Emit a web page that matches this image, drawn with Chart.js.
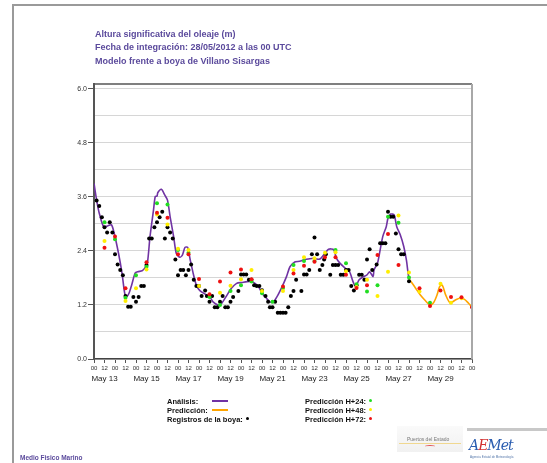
<!DOCTYPE html>
<html><head><meta charset="utf-8">
<script src="https://cdn.jsdelivr.net/npm/chart.js@4.4.0/dist/chart.umd.min.js"></script>
<style>
html,body{margin:0;padding:0;background:#fff;width:547px;height:463px;overflow:hidden;font-family:"Liberation Sans",Arial,sans-serif;}
#frame{position:absolute;left:12px;top:4px;width:560px;height:480px;border-left:2px solid #9a9a9a;border-top:2px solid #9a9a9a;}
canvas{position:absolute;left:0;top:0;}
.ttl{position:absolute;left:95px;top:28px;color:#5b4a9c;font-weight:bold;font-size:9px;line-height:13.3px;white-space:nowrap;}
.lg{position:absolute;font-weight:bold;font-size:7.5px;line-height:9px;color:#111;white-space:nowrap;}
.ln{position:absolute;height:2px;width:16px;}
.dt{position:absolute;width:4px;height:4px;border-radius:50%;}
.foot{position:absolute;left:20px;top:454px;color:#5b4a9c;font-weight:bold;font-size:6.5px;white-space:nowrap;}
.pe{position:absolute;left:397px;top:426px;width:66px;height:26px;background:linear-gradient(#fafafa,#f1f1f1);}
.pe span{position:absolute;left:10px;top:10px;font-size:5px;color:#777;white-space:nowrap;}
.pe i{position:absolute;left:2px;top:17px;width:62px;height:1px;background:#f0d890;}
.pe b{position:absolute;left:28px;top:19px;width:10px;height:2px;border-top:1px solid #e05050;border-radius:50%;}
.bar{position:absolute;left:467px;top:428px;width:80px;height:3px;background:#c8c8c8;}
.aemet{position:absolute;left:469px;top:437px;font-family:"DejaVu Serif",serif;font-style:italic;font-size:14px;color:#2a5db0;white-space:nowrap;letter-spacing:-1px;}
.aemet em{color:#d23030;font-style:italic;}
.ag{position:absolute;left:470px;top:455px;font-size:3px;color:#5577aa;white-space:nowrap;}
</style></head>
<body>
<div id="frame"></div>
<canvas id="c" width="547" height="463"></canvas>
<div class="ttl">Altura significativa del oleaje (m)<br>Fecha de integración: 28/05/2012 a las 00 UTC<br>Modelo frente a boya de Villano Sisargas</div>

<div class="lg" style="left:167px;top:397px;">Análisis:</div>
<div class="ln" style="left:212px;top:400px;background:#7033a3;"></div>
<div class="lg" style="left:167px;top:406px;">Predicción:</div>
<div class="ln" style="left:212px;top:409px;background:#ffa500;"></div>
<div class="lg" style="left:167px;top:415px;">Registros de la boya:</div>
<div class="dt" style="left:246px;top:417px;background:#000;width:3px;height:3px;"></div>
<div class="lg" style="left:305px;top:397px;">Predicción H+24:</div>
<div class="dt" style="left:369px;top:399px;background:#22dd22;width:3px;height:3px;"></div>
<div class="lg" style="left:305px;top:406px;">Predicción H+48:</div>
<div class="dt" style="left:369px;top:408px;background:#ffee00;width:3px;height:3px;"></div>
<div class="lg" style="left:305px;top:415px;">Predicción H+72:</div>
<div class="dt" style="left:369px;top:417px;background:#ee1111;width:3px;height:3px;"></div>

<div class="foot">Medio Fisico Marino</div>
<div class="pe"><span>Puertos del Estado</span><i></i><b></b></div>
<div class="bar"></div>
<div class="aemet">A<em>E</em>Met</div>
<div class="ag">Agencia Estatal de Meteorología</div>

<script>
// ---- data (hours from 13 May 00 UTC, significant wave height in m) ----
const analysisHours = [0,3,6,11,16,20,23,28,32,35,37,40,43,47,50,55,58,61,64,68,70,72,73,77,81,84,87,91,94,98,101,104,107,110,114,117,121,129,133,136,142,146,152,157,163,169,175,180,184,188,192,197,201,205,209,215,220,224,230,235,241,251,258,264,268,274,277,281,287,292,296,299,303,308,312,315,319,320,324,327,330,334,336,339,343,346,350,354,357,359,360];
const analysisValues = [3.90,3.53,3.24,2.94,2.96,2.98,2.80,2.35,1.91,1.47,1.38,1.46,1.64,1.91,1.94,1.96,2.02,2.13,2.72,3.31,3.61,3.62,3.70,3.77,3.64,3.53,3.16,2.72,2.35,2.26,2.31,2.48,2.48,2.20,1.85,1.64,1.52,1.42,1.36,1.27,1.20,1.24,1.42,1.57,1.68,1.70,1.72,1.72,1.68,1.61,1.46,1.35,1.27,1.27,1.38,1.61,1.83,2.05,2.16,2.17,2.21,2.24,2.22,2.35,2.44,2.43,2.24,2.13,2.02,1.94,1.72,1.61,1.76,1.83,1.87,1.94,1.83,1.98,2.13,2.42,2.72,2.94,3.13,3.22,3.20,2.94,2.76,2.50,2.20,1.90,1.78];

const forecastHours = [360,367,373,378,384,388,392,395,398,402,407,413,418,423,428,432];
const forecastValues = [1.78,1.59,1.42,1.31,1.20,1.25,1.42,1.61,1.64,1.42,1.25,1.31,1.35,1.33,1.24,1.15];

const buoyHours = [3,6,9,12,15,18,21,24,27,30,33,36,39,42,45,48,51,54,57,60,63,66,69,72,75,78,81,84,87,90,93,96,99,102,105,108,111,114,117,120,123,127,129,132,135,138,141,144,147,150,153,156,159,165,168,171,174,177,180,183,186,189,192,196,199,201,204,207,210,213,216,219,222,225,228,231,237,240,243,246,249,252,255,258,261,263,265,270,273,276,279,282,285,288,291,294,297,300,303,306,309,312,315,318,323,327,330,333,336,339,342,345,348,351,354,360];
const buoyValues = [3.52,3.40,3.15,2.93,2.81,3.04,2.81,2.33,2.10,1.98,1.86,1.40,1.16,1.16,1.38,1.27,1.38,1.62,1.62,2.09,2.68,2.68,2.93,3.04,3.15,3.27,2.68,2.93,2.81,2.68,2.21,1.86,1.98,1.98,1.86,1.98,2.10,1.76,1.62,1.62,1.40,1.52,1.40,1.27,1.40,1.15,1.15,1.27,1.40,1.15,1.15,1.27,1.38,1.51,1.88,1.88,1.88,1.76,1.76,1.64,1.62,1.62,1.53,1.40,1.27,1.15,1.15,1.27,1.03,1.03,1.03,1.03,1.15,1.40,1.51,1.76,1.51,1.88,1.88,1.98,2.33,2.70,2.33,1.98,2.09,2.21,2.33,1.87,2.09,2.09,2.09,1.87,1.87,1.98,1.98,1.62,1.52,1.64,1.87,1.87,1.76,2.21,2.44,1.98,2.10,2.57,2.57,2.57,3.27,3.16,3.16,2.79,2.44,2.33,2.33,1.73];

const predHours = [12,24,36,48,60,72,84,96,108,120,132,144,156,168,180,192,204,216,228,240,252,264,276,288,300,312,324,336,348,360,372,384,396,408,420,432];
const predH24 = [3.04,2.66,1.36,1.86,2.05,3.46,3.43,2.42,2.36,null,1.38,1.20,1.51,1.64,1.72,1.46,1.27,1.58,2.09,2.18,2.18,null,2.42,2.13,1.66,1.50,1.64,3.16,3.03,1.81,null,1.25,null,null,null,null];
const predH48 = [2.62,null,1.29,1.57,1.99,3.21,2.99,2.45,2.42,1.62,null,1.47,1.63,1.77,1.98,1.51,null,1.51,1.98,2.26,2.24,2.36,2.37,1.95,1.60,1.76,1.40,1.94,3.19,1.92,1.50,null,1.67,1.25,1.35,null];
const predH72 = [2.47,2.72,1.57,null,2.15,3.25,3.14,2.33,2.33,1.78,1.44,1.72,1.92,1.99,1.77,null,null,1.61,1.90,2.07,2.16,2.26,2.26,1.87,1.58,1.64,2.31,2.78,2.09,null,1.57,1.18,1.52,1.38,1.37,1.15];

const hourTicks = [0,12,24,36,48,60,72,84,96,108,120,132,144,156,168,180,192,204,216,228,240,252,264,276,288,300,312,324,336,348,360,372,384,396,408,420,432];
const dateTicks = [12,60,108,156,204,252,300,348,396];
const dateLabels = ['May 13','May 15','May 17','May 19','May 21','May 23','May 25','May 27','May 29'];
const yTickValues = [0,0.6,1.2,1.8,2.4,3.0,3.6,4.2,4.8,5.4,6.0];
const yTickLabels = ['0.0','','1.2','','2.4','','3.6','','4.8','','6.0'];

// ---- chart ----
const F = '"Liberation Sans", Arial, sans-serif';
const pairs = (xs, ys) => xs.map((x, i) => ({x: x, y: ys[i]})).filter(p => p.y !== null);

const boxPlugin = {
  id: 'box',
  afterDraw(chart) {
    const {ctx, chartArea: a} = chart;
    ctx.save();
    ctx.strokeStyle = '#555'; ctx.lineWidth = 1.5;
    ctx.beginPath(); ctx.moveTo(a.left, a.top); ctx.lineTo(a.right, a.top); ctx.stroke();
    ctx.strokeStyle = '#a8a8a8'; ctx.lineWidth = 2;
    ctx.beginPath(); ctx.moveTo(a.right, a.top); ctx.lineTo(a.right, a.bottom); ctx.stroke();
    ctx.restore();
  }
};

const dot = (data, color, order) => ({
  type: 'line', data: data, showLine: false, pointRadius: 2, pointHoverRadius: 2,
  pointBackgroundColor: color, pointBorderWidth: 0, borderColor: color, order: order
});

new Chart(document.getElementById('c'), {
  type: 'line',
  data: {
    datasets: [
      {data: pairs(analysisHours, analysisValues), borderColor: '#7033a3', borderWidth: 1.6, pointRadius: 0, tension: 0.25, fill: false, order: 10},
      {data: pairs(forecastHours, forecastValues), borderColor: '#ffa500', borderWidth: 1.6, pointRadius: 0, tension: 0.3, fill: false, order: 10},
      dot(pairs(buoyHours, buoyValues), '#000000', 5),
      dot(pairs(predHours, predH24), '#22dd22', 3),
      dot(pairs(predHours, predH48), '#ffee00', 2),
      dot(pairs(predHours, predH72), '#ee1111', 1)
    ]
  },
  options: {
    responsive: false, animation: false, devicePixelRatio: 1,
    layout: {padding: {left: 60, top: 84, right: 75, bottom: 78}},
    plugins: {legend: {display: false}, tooltip: {enabled: false}},
    scales: {
      x: {
        type: 'linear', min: 0, max: 432, position: 'bottom',
        afterBuildTicks: s => { s.ticks = hourTicks.map(v => ({value: v})); },
        afterFit: s => { s.height = 14; },
        grid: {drawOnChartArea: false, drawTicks: true, tickLength: 4, tickColor: '#555', lineWidth: 1},
        border: {display: true, color: '#444', width: 1.5},
        ticks: {autoSkip: false, maxRotation: 0, minRotation: 0, padding: 2, font: {size: 6, family: F}, color: '#333',
          callback: v => (v % 24 === 0 ? '00' : '12')}
      },
      x2: {
        type: 'linear', min: 0, max: 432, position: 'bottom',
        afterBuildTicks: s => { s.ticks = dateTicks.map(v => ({value: v})); },
        afterFit: s => { s.height = 12; },
        grid: {display: false, drawTicks: false},
        border: {display: false},
        ticks: {autoSkip: false, maxRotation: 0, minRotation: 0, padding: 1, font: {size: 8, family: F}, color: '#222',
          callback: (v, i) => dateLabels[i]}
      },
      y: {
        type: 'linear', min: 0, max: 6.11,
        afterBuildTicks: s => { s.ticks = yTickValues.map(v => ({value: v})); },
        afterFit: s => { s.width = 34; },
        grid: {color: '#d6d6d6', lineWidth: 1, drawTicks: true, tickLength: 6,
          tickColor: ctx => (yTickLabels[ctx.index] ? '#555' : 'rgba(0,0,0,0)')},
        border: {color: '#555', width: 2},
        ticks: {padding: 1, font: {size: 7, family: F}, color: '#333', callback: (v, i) => yTickLabels[i]}
      }
    }
  },
  plugins: [boxPlugin]
});
</script>
</body></html>
